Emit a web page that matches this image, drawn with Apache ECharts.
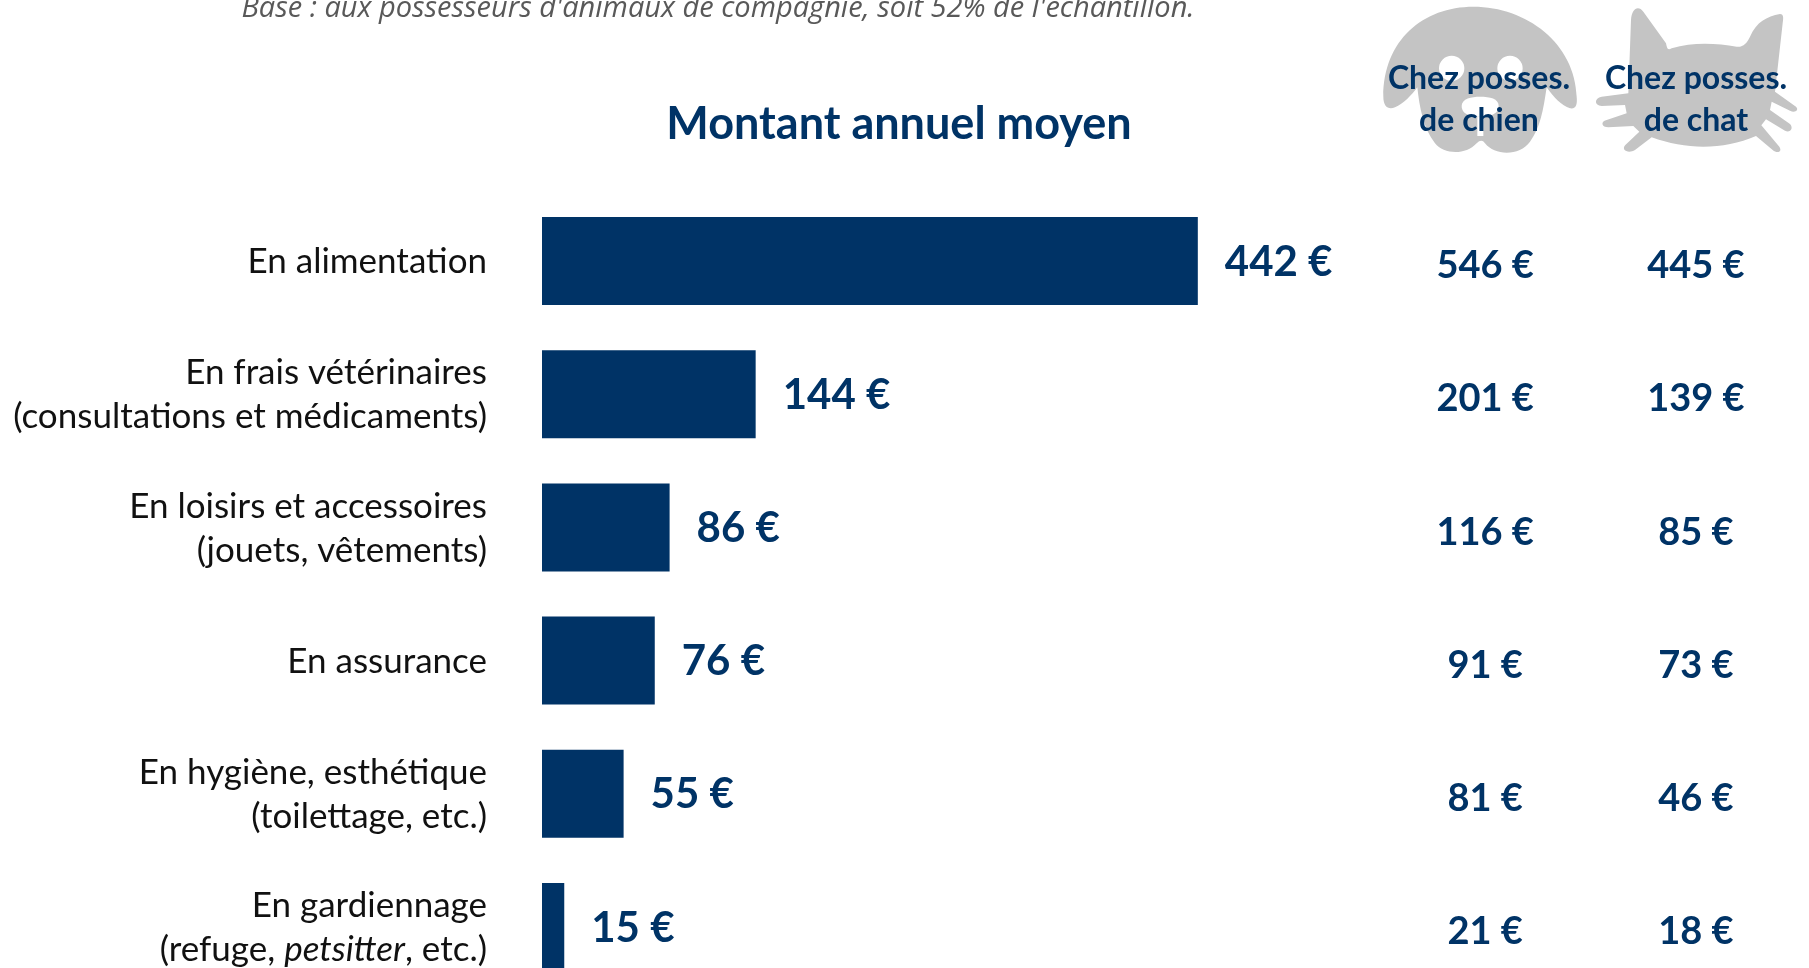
<!DOCTYPE html>
<html>
<head>
<meta charset="utf-8">
<style>
  html, body { margin: 0; padding: 0; background: #fff; overflow: hidden; }
  #main { width: 1809px; height: 968px; }
</style>
<script src="https://cdn.jsdelivr.net/npm/echarts@6/dist/echarts.min.js"></script>
</head>
<body>
<div id="main"></div>
<script>
const categories = [
    'En alimentation',
    'En frais vétérinaires\n(consultations et médicaments)',
    'En loisirs et accessoires\n(jouets, vêtements)',
    'En assurance',
    'En hygiène, esthétique\n(toilettage, etc.)',
    'En gardiennage\n(refuge, petsitter, etc.)'
];
const meanValues = [442, 144, 86, 76, 55, 15];
const dogValues = [546, 201, 116, 91, 81, 21];
const catValues = [445, 139, 85, 73, 46, 18];

const NAVY = '#003366';
const GREY = '#c4c4c4';
const FONT = 'Lato';

// silhouettes, in the 3x zoom coordinates they were traced from
const dogPath = 'M400 20 C250 20 130 120 130 290 C130 320 145 330 165 322 C190 312 215 285 232 262 ' +
    'C238 320 250 385 285 430 C310 462 375 468 410 430 C420 420 428 420 435 430 ' +
    'C465 468 540 468 570 425 C600 385 610 330 620 262 C640 290 665 318 690 325 C710 328 712 310 710 290 ' +
    'C705 130 560 20 400 20 Z';
const dogEyes = 'M297 205 A38 38 0 1 0 373 205 A38 38 0 1 0 297 205 Z M472 205 A38 38 0 1 0 548 205 A38 38 0 1 0 472 205 Z';
const dogNose = 'M365 318 C365 295 395 290 420 290 C450 290 476 295 476 318 C476 345 445 350 420 350 C395 350 365 345 365 318 Z';
const dogGap = 'M412 350 L430 350 L430 408 L412 408 Z';
const catPath = 'M873 60 C875 25 895 15 910 35 L978 130 C982 150 985 150 995 145 ' +
    'C1060 125 1130 130 1190 140 C1210 142 1220 130 1230 110 C1250 65 1280 50 1320 42 C1332 42 1330 55 1328 70 ' +
    'L1305 275 L1368 320 C1378 330 1365 340 1350 332 L1295 305 L1290 330 L1350 372 C1362 385 1350 400 1335 392 ' +
    'L1278 358 L1264 376 L1318 440 C1328 455 1312 462 1298 450 L1248 408 C1150 450 1040 450 935 412 ' +
    'L885 450 C865 462 842 450 856 435 L898 395 L880 378 L805 382 C785 382 780 365 800 360 L860 340 L855 315 ' +
    'L785 318 C762 316 762 295 785 290 L865 280 Z';

function silhouette(pathData, fill) {
    return {
        type: 'path',
        shape: { pathData: pathData, layout: 'none' },
        style: { fill: fill }
    };
}

function header(x, y, text) {
    return {
        type: 'text',
        x: x,
        y: y,
        z: 5,
        style: {
            text: text,
            fill: NAVY,
            font: 'bold 32px ' + FONT,
            textAlign: 'center',
            textVerticalAlign: 'middle'
        }
    };
}

function columnSeries(values, column) {
    return {
        type: 'scatter',
        symbolSize: 0,
        silent: true,
        clip: false,
        z: 5,
        itemStyle: { opacity: 1 },
        data: values.map((v, i) => [column, i, v]),
        label: {
            show: true,
            position: 'inside',
            offset: [1, 5],
            color: NAVY,
            fontFamily: FONT,
            fontWeight: 'bold',
            fontSize: 38,
            formatter: p => p.value[2] + ' €'
        }
    };
}

const myChart = echarts.init(document.getElementById('main'), null, { renderer: 'canvas' });

const option = {
    backgroundColor: '#fff',
    animation: false,
    title: [{
        text: 'Base : aux possesseurs d\'animaux de compagnie, soit 52% de l\'échantillon.',
        left: 713,
        top: -11,
        textAlign: 'center',
        textStyle: { color: '#595959', fontFamily: 'Open Sans', fontStyle: 'italic', fontWeight: 'normal', fontSize: 29 }
    }, {
        text: 'Montant annuel moyen',
        left: 894,
        top: 97,
        textAlign: 'center',
        textStyle: { color: NAVY, fontFamily: FONT, fontWeight: 'bold', fontSize: 45 }
    }],
    // first row sits on the top of the grid, last row on its bottom
    grid: { left: 542, top: 261, width: 1187, height: 666, outerBoundsMode: 'none' },
    xAxis: { type: 'value', min: 0, max: 800, show: false },
    yAxis: {
        type: 'category',
        inverse: true,
        boundaryGap: false,
        data: categories,
        axisLine: { show: false },
        axisTick: { show: false },
        axisLabel: {
            margin: 55,
            color: '#111',
            fontFamily: FONT,
            fontSize: 35,
            lineHeight: 44,
            align: 'right',
            padding: [2, 0, 0, 0],
            formatter: v => v.replace('petsitter', '{i|petsitter}'),
            rich: {
                i: { fontStyle: 'italic', fontFamily: FONT, fontSize: 35, color: '#111', lineHeight: 44 }
            }
        }
    },
    series: [{
        type: 'custom',
        coordinateSystem: 'none',
        silent: true,
        z: 1,
        data: [0],
        renderItem: function () {
            return {
                type: 'group',
                x: 1340,
                y: 0,
                scaleX: 1 / 3,
                scaleY: 1 / 3,
                children: [
                    silhouette(dogPath, GREY),
                    silhouette(dogEyes, '#fff'),
                    silhouette(dogNose, '#fff'),
                    silhouette(dogGap, '#fff'),
                    silhouette(catPath, GREY)
                ]
            };
        }
    }, {
        type: 'bar',
        barWidth: 88,
        clip: false,
        data: meanValues,
        itemStyle: { color: NAVY },
        label: {
            show: true,
            position: 'right',
            distance: 27,
            offset: [0, 1],
            color: NAVY,
            fontFamily: FONT,
            fontWeight: 'bold',
            fontSize: 42,
            formatter: '{c} €'
        }
    },
    columnSeries(dogValues, 635),
    columnSeries(catValues, 777)],
    graphic: [
        header(1479, 79, 'Chez posses.'),
        header(1479, 121, 'de chien'),
        header(1696, 79, 'Chez posses.'),
        header(1696, 121, 'de chat')
    ]
};
myChart.setOption(option);
</script>
</body>
</html>
